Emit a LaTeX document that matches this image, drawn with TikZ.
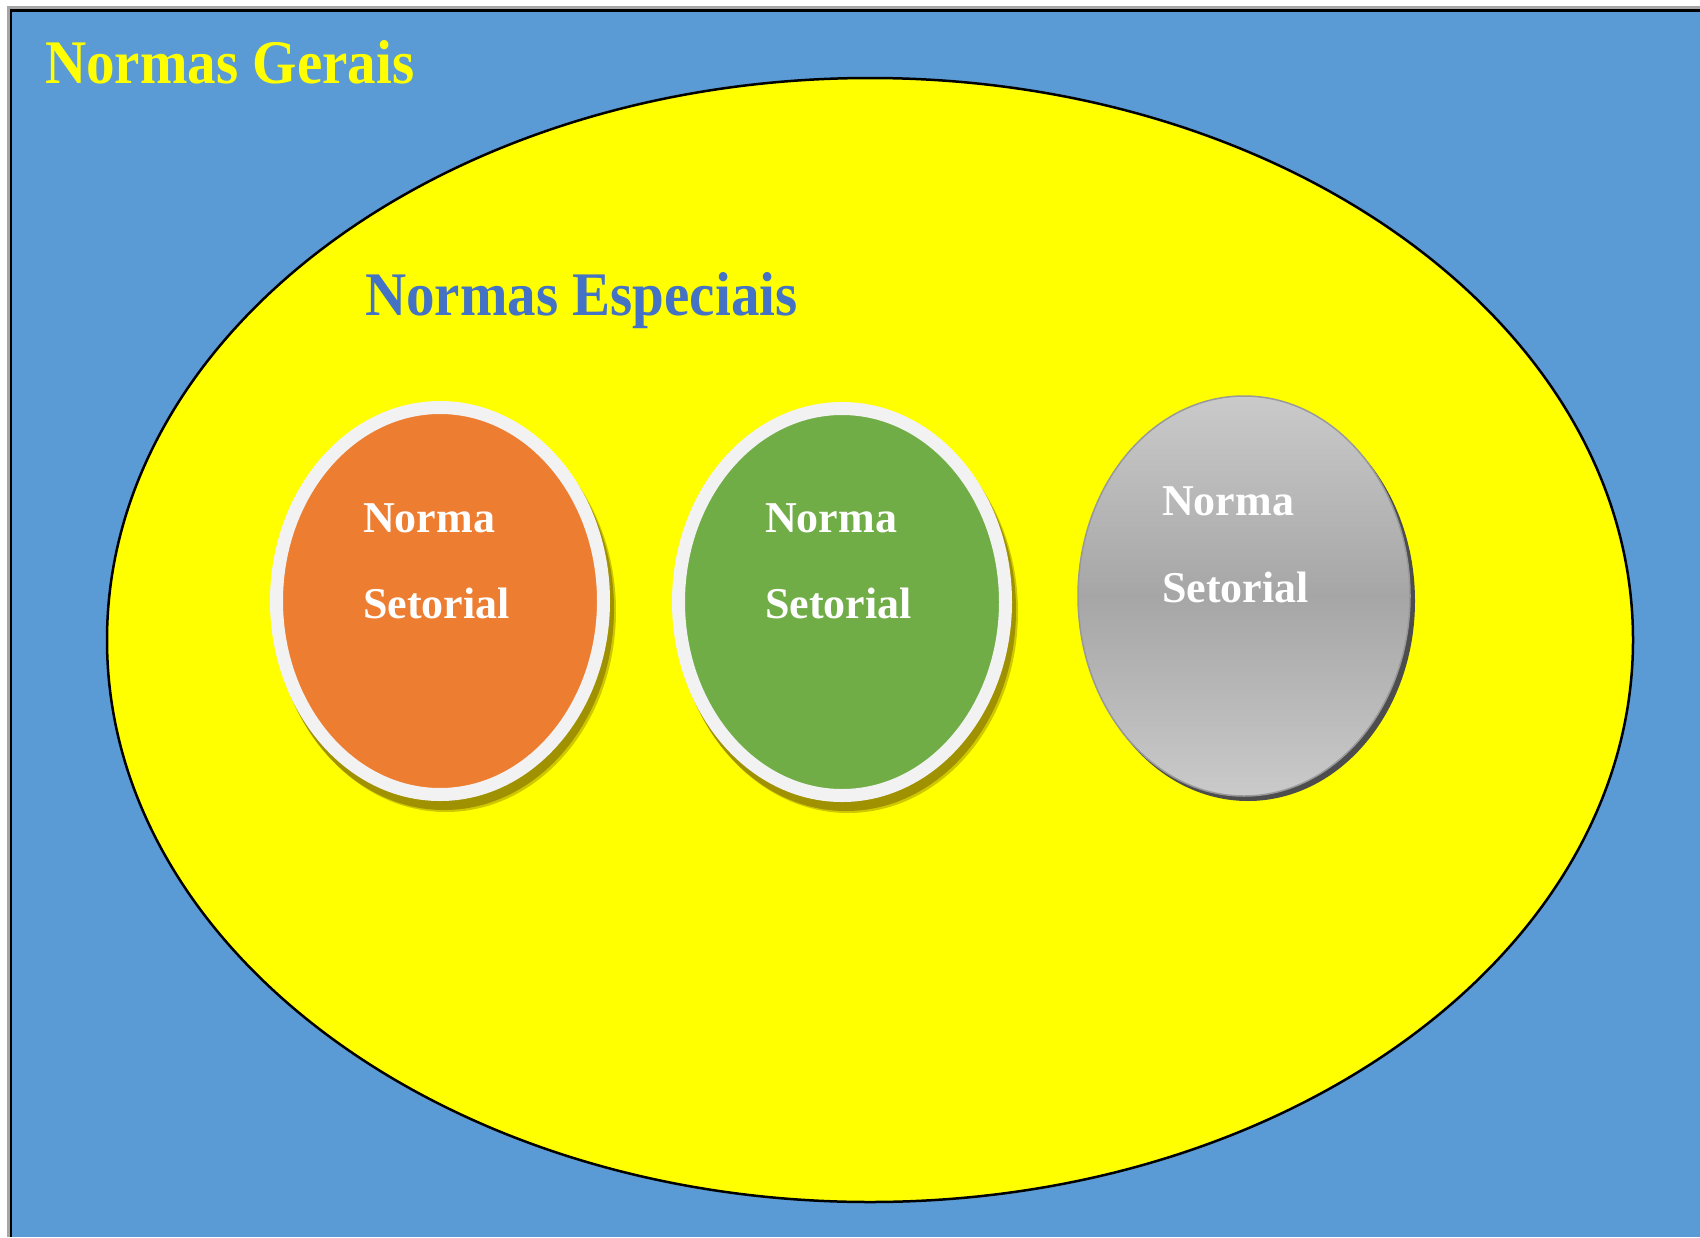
\documentclass[tikz,border=0pt]{standalone}
\usepackage{fontspec}
\setmainfont{Liberation Serif}
\usetikzlibrary{shapes.geometric}
\definecolor{bgblue}{HTML}{5B9BD5}
\definecolor{ylw}{HTML}{FFFF00}
\definecolor{espblue}{HTML}{4472C4}
\definecolor{orng}{HTML}{ED7D31}
\definecolor{grn}{HTML}{70AD47}
\definecolor{ring}{HTML}{F2F2F2}
\definecolor{olive}{RGB}{160,145,0}
\definecolor{gtop}{HTML}{CACACA}
\definecolor{gmid}{HTML}{A6A6A6}
\definecolor{gshadow}{HTML}{4D4D4D}
\tikzset{
  oval/.style={ellipse, inner sep=0pt, outer sep=0pt},
  ringoval/.style={oval, draw=ring, line width=13pt, minimum width=327pt, minimum height=387pt},
  shadowoval/.style={oval, fill=olive, minimum width=340pt, minimum height=402pt},
  lbl/.style={anchor=base west, text=white, font=\bfseries\fontsize{44}{50}\selectfont, inner sep=0pt},
  title/.style={anchor=base west, inner sep=0pt, font=\bfseries\fontsize{62}{70}\selectfont},
}
\begin{document}
\begin{tikzpicture}[x=1pt, y=-1pt]
\useasboundingbox (0,0) rectangle (1700,1237);
\fill[white] (0,0) rectangle (1700,1237);
% frame
\fill[gray!70] (7,6) rectangle (1700,1237);
\fill[black] (10,9) rectangle (1700,1237);
\fill[bgblue] (12,12) rectangle (1700,1237);
\node[title, text=ylw] (gerais) at (45,83) {\scalebox{0.92}[1]{Normas Gerais}};
% big ellipse
\node[oval, draw=black, line width=2.5pt, fill=ylw, minimum width=1526pt, minimum height=1124pt] (especial) at (870,640) {};
\node[title, text=espblue] (esptitle) at (365,315) {\scalebox{0.92}[1]{Normas Especiais}};
% orange
\node[shadowoval, opacity=0.5] (s1b) at (446,611) {};
\node[shadowoval] (s1) at (444,609) {};
\node[ringoval, fill=orng] (c1) at (440,601) {};
\node[lbl] (c1a) at (363,532) {Norma};
\node[lbl] (c1b) at (363,618) {Setorial};
% green
\node[shadowoval, opacity=0.5] (s2b) at (848,612) {};
\node[shadowoval] (s2) at (846,610) {};
\node[ringoval, fill=grn] (c2) at (842,602) {};
\node[lbl] (c2a) at (765,532) {Norma};
\node[lbl] (c2b) at (765,618) {Setorial};
% gray
\node[oval, fill=gshadow, minimum width=334pt, minimum height=400pt] (s3) at (1248,601) {};
\node[oval, draw=gray!80, line width=1.5pt, top color=gtop, bottom color=gtop, middle color=gmid, minimum width=332pt, minimum height=400pt] (c3) at (1244,596) {};
\node[lbl] (c3a) at (1162,515) {Norma};
\node[lbl] (c3b) at (1162,602) {Setorial};
\end{tikzpicture}
\end{document}
